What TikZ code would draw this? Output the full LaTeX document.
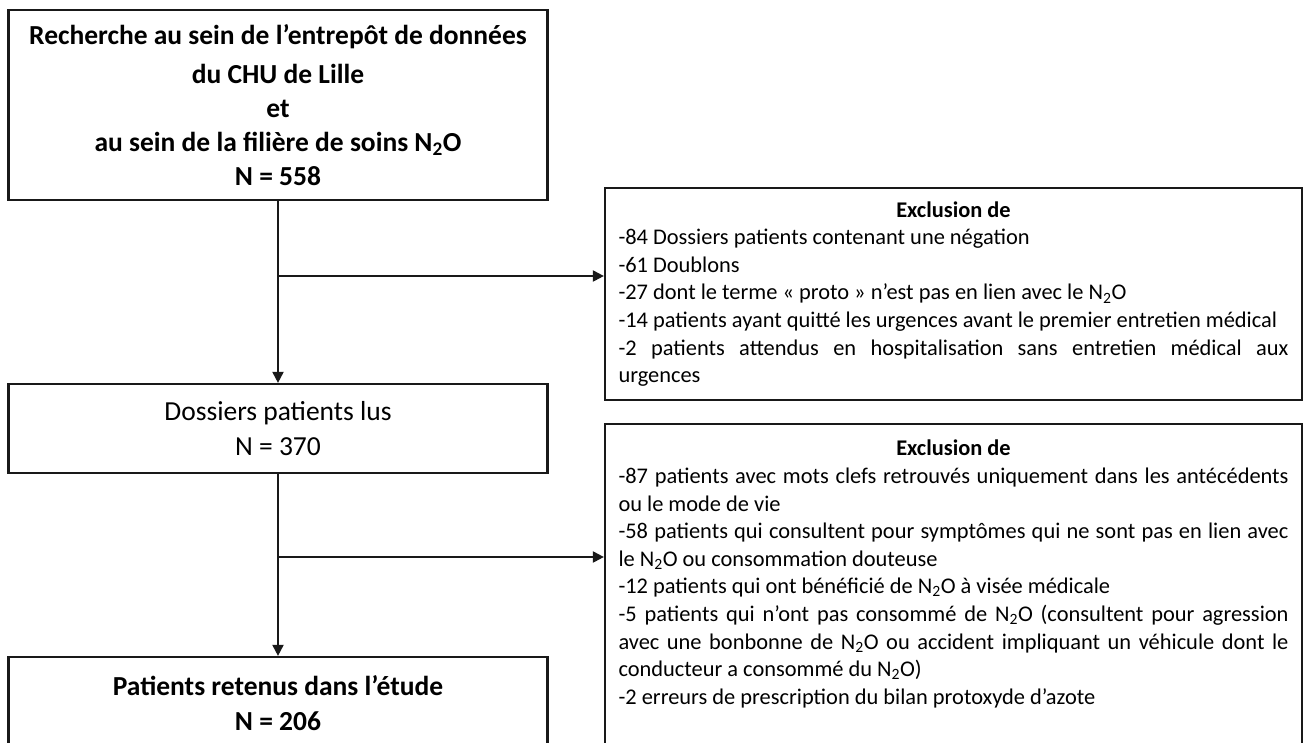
\documentclass[tikz,border=0pt]{standalone}
\usepackage{fontspec}
\setmainfont{Carlito}
\usetikzlibrary{arrows.meta}
\newcommand{\NtwoO}{N\textsubscript{2}O}
\begin{document}
\begin{tikzpicture}[x=1pt,y=-1pt,
  mainbox/.style={draw=black!90, line width=2.2pt, inner sep=0pt, align=center,
    minimum width=539pt, font=\fontsize{27.5}{35}\selectfont},
  exclbox/.style={draw=black!90, line width=2.2pt, inner xsep=13.5pt, inner ysep=0pt,
    minimum width=697pt, font=\fontsize{22.4}{27.6}\selectfont},
  conn/.style={line width=2pt, draw=black!90, -{Triangle[width=11pt,length=11pt]}}]
\useasboundingbox (0,0) rectangle (1307,742);
\clip (0,0) rectangle (1307,742);
\fill[white] (0,0) rectangle (1307,742);

\node[mainbox, minimum height=190pt, font=\fontsize{27.5}{34}\selectfont\bfseries] (top) at (278,105)
  {Recherche au sein de l’entrepôt de données\\[5pt]du CHU de Lille\\et\\au sein de la filière de soins \NtwoO\\N = 558};

\node[mainbox, minimum height=89pt] (read) at (278,428.5)
  {Dossiers patients lus\\N = 370};

\node[mainbox, minimum height=92pt, font=\fontsize{27.5}{35}\selectfont\bfseries] (kept) at (278,703)
  {Patients retenus dans l’étude\\N = 206};

\node[exclbox, minimum height=212pt] (ex1) at (953.5,294)
  {\parbox[c]{670pt}{\parindent=0pt\parskip=0pt\hyphenpenalty=10000
  {\centering\bfseries Exclusion de\par}
  -84 Dossiers patients contenant une négation\par
  -61 Doublons\par
  -27 dont le terme « proto » n’est pas en lien avec le \NtwoO\par
  -14 patients ayant quitté les urgences avant le premier entretien médical\par
  -2 patients attendus en hospitalisation sans entretien médical aux\linebreak urgences\par}};

\node[exclbox, anchor=north, minimum height=340pt] (ex2) at (953.5,423)
  {\parbox[c][330pt][t]{670pt}{\vspace*{11pt}\parindent=0pt\parskip=0pt\hyphenpenalty=10000
  {\centering\bfseries Exclusion de\par}
  -87 patients avec mots clefs retrouvés uniquement dans les antécédents\linebreak ou le mode de vie\par
  -58 patients qui consultent pour symptômes qui ne sont pas en lien avec\linebreak le \NtwoO{} ou consommation douteuse\par
  -12 patients qui ont bénéficié de \NtwoO{} à visée médicale\par
  -5 patients qui n’ont pas consommé de \NtwoO{} (consultent pour agression\linebreak avec une bonbonne de \NtwoO{} ou accident impliquant un véhicule dont le\linebreak conducteur a consommé du \NtwoO)\par
  -2 erreurs de prescription du bilan protoxyde d’azote\par}};

\coordinate (b1) at (top.south |- 0,276);
\coordinate (b2) at (read.south |- 0,557);
\draw[conn] (top.south) -- (read.north);
\draw[conn] (b1) -- (b1 -| ex1.west);
\draw[conn] (read.south) -- (kept.north);
\draw[conn] (b2) -- (b2 -| ex2.west);
\end{tikzpicture}
\end{document}
